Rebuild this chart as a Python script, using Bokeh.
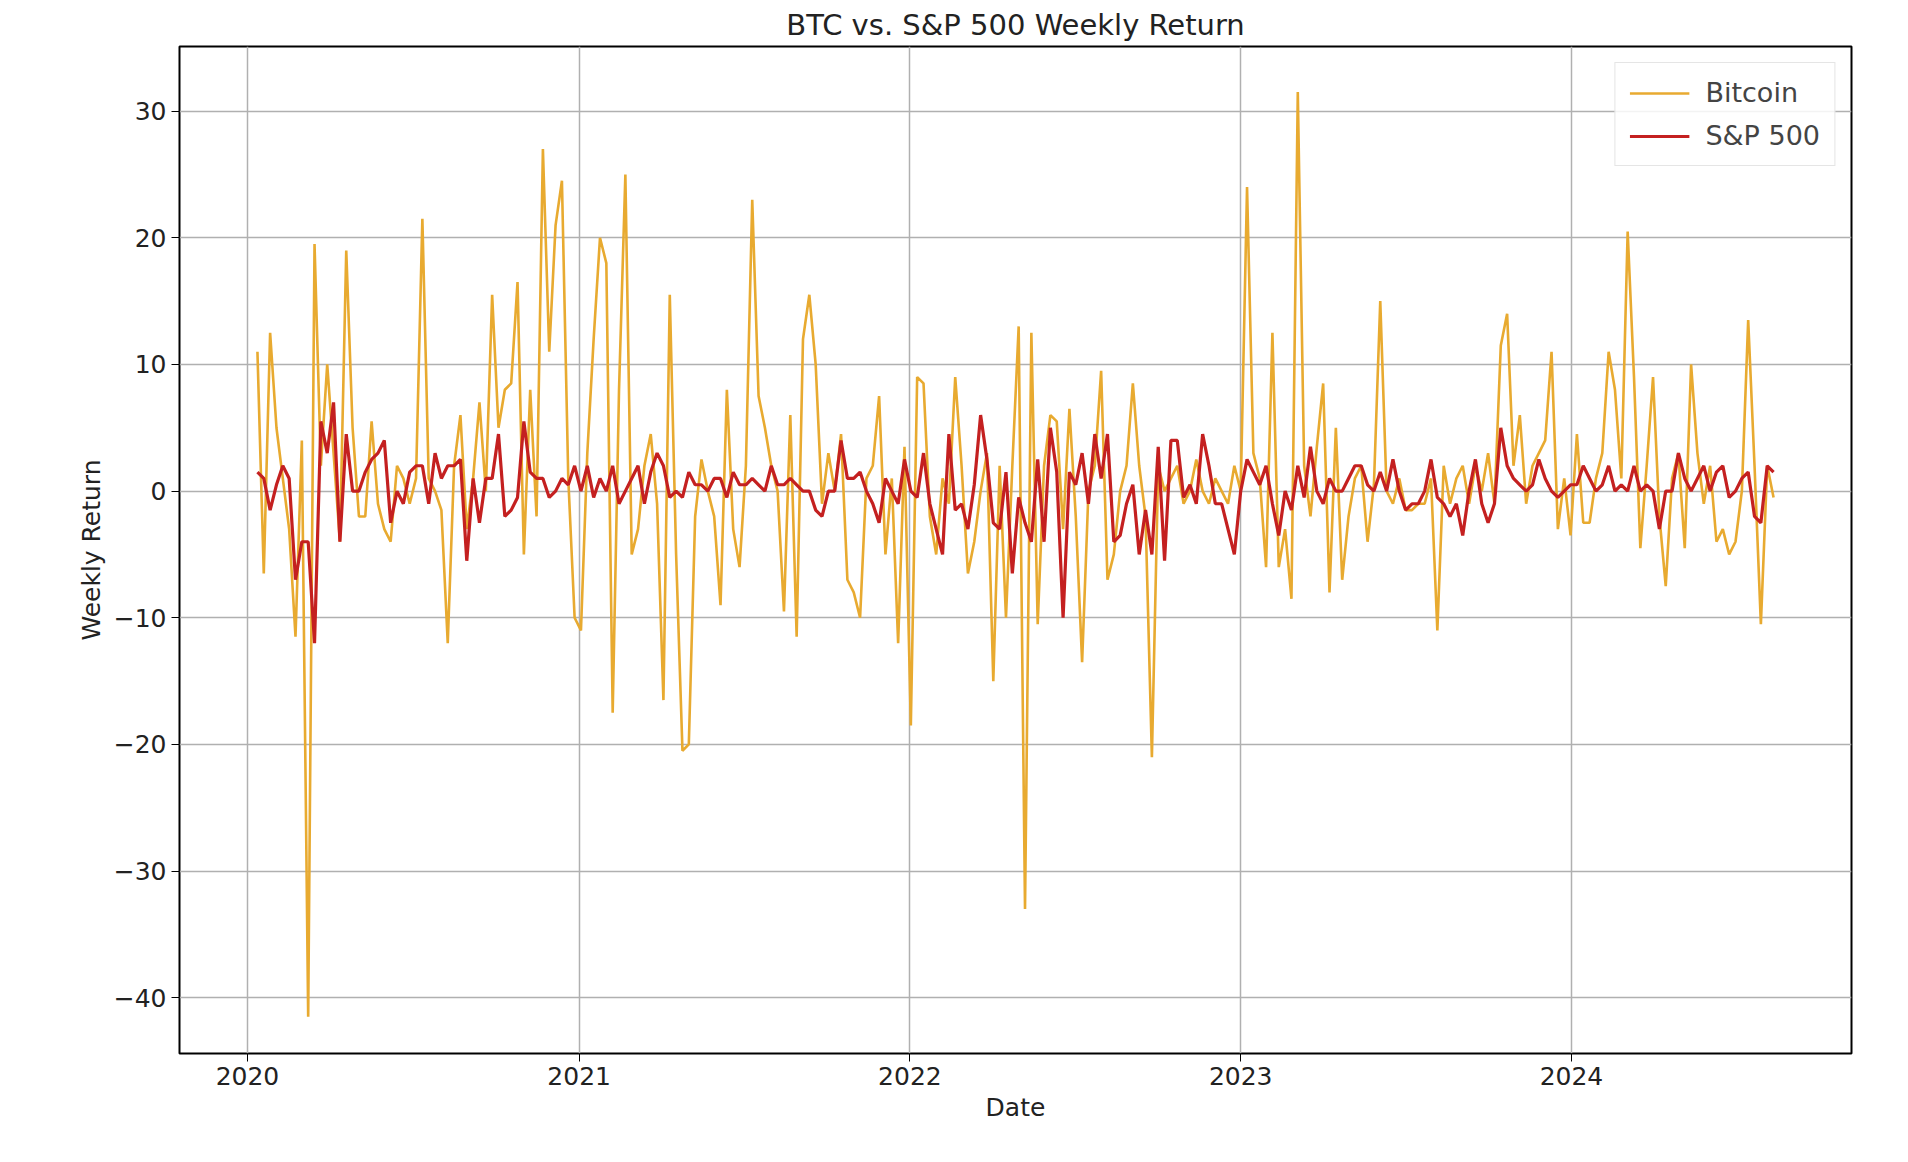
import pandas as pd
from bokeh.plotting import figure
from bokeh.models import FixedTicker, Legend, LegendItem, Range1d
from bokeh.embed import file_html
from bokeh.resources import INLINE

btc_2020 = [11, -6.5, 12.5, 5, 1, -3, -11.5, 4, -41.5, 19.5, 2, 10, 3, -4, 19, 5, -2, -2, 5.5, -1,
            -3, -4, 2, 1, -1, 1, 21.5, 1, 0, -1.5, -12, 2, 6, -3, 1, 7, 0, 15.5, 5, 8,
            8.5, 16.5, -5, 8, -2, 27, 11, 21, 24.5, 1, -10, -11]
btc_2021 = [3, 12, 20, 18, -17.5, 8, 25, -5, -3, 2, 4.5, -1, -16.5, 15.5, -5, -20.5, -20, -2, 2.5, 0,
            -2, -9, 8, -3, -6, 2, 23, 7.5, 5, 2, 0, -9.5, 6, -11.5, 12, 15.5, 10, -1, 3, 0,
            4.5, -7, -8, -10, 1, 2, 7.5, -5, 1, -12, 3.5, -18.5]
btc_2022 = [9, 8.5, -2, -5, 1, -1, 9, 2, -6.5, -4, 0, 3, -15, 2, -10, 2, 13, -33, 12.5, -10.5,
            2, 6, 5.5, -3, 6.5, -2, -13.5, 0, 2, 9.5, -7, -5, 0, 2, 8.5, 2, -2, -21, 2, 0,
            1, 2, -1, 0, 2.5, 0, -1, 1, 0, -1, 2, 0]
btc_2023 = [24, 3, 1, -6, 12.5, -6, -3, -8.5, 31.5, 2, -2, 3.5, 8.5, -8, 5, -7, -2, 1, 2, -4,
            0.5, 15, 0, -1, 1, -1.5, -1.5, -1, -1, 1, -11, 2, -1, 1, 2, -1, 2, 0, 3, -1,
            11.5, 14, 2, 6, -1, 2, 3, 4, 11, -3, 1, -3.5]
btc_2024 = [4.5, -2.5, -2.5, 1, 3, 11, 8, 1, 20.5, 9, -4.5, 2, 9, -2, -7.5, 1, 3, -4.5, 10, 3,
            -1, 2, -4, -3, -5, -4, 0, 13.5, 2, -10.5, 2, -0.5]

spx_2020 = [1.5, 1, -1.5, 0.5, 2, 1, -7, -4, -4, -12, 5.5, 3, 7, -4, 4.5, 0, 0, 1.5, 2.5, 3,
            4, -2.5, 0, -1, 1.5, 2, 2, -1, 3, 1, 2, 2, 2.5, -5.5, 1, -2.5, 1, 1, 4.5, -2,
            -1.5, -0.5, 5.5, 1.5, 1, 1, -0.5, 0, 1, 0.5, 2, 0]
spx_2021 = [2, -0.5, 1, 0, 2, -1, 0, 1, 2, -1, 1.5, 3, 2, -0.5, 0, -0.5, 1.5, 0.5, 0.5, 0,
            1, 1, -0.5, 1.5, 0.5, 0.5, 1, 0.5, 0, 2, 0.5, 0.5, 1, 0.5, 0, 0, -1.5, -2, 0, 0,
            4, 1, 1, 1.5, 0, -1, -2.5, 1, 0, -1, 2.5, 0]
spx_2022 = [-0.5, 3, -1, -3, -5, 4.5, -1.5, -1, -3, 0.5, 6, 2.5, -2.5, -3, 1.5, -6.5, -0.5, -2.5, -4, 2.5,
            -4, 5, 1.5, -10, 1.5, 0.5, 3, -1, 4.5, 1, 4.5, -4, -3.5, -1, 0.5, -5, -1.5, -5, 3.5, -5.5,
            4, 4, -0.5, 0.5, -1, 4.5, 2, -1, -1, -3, -5, 0]
spx_2023 = [2.5, 1.5, 0.5, 2, -1, -3.5, 0, -1.5, 2, -0.5, 3.5, 0, -1, 1, 0, 0, 1, 2, 2, 0.5,
            0, 1.5, 0, 2.5, 0, -1.5, -1, -1, 0, 2.5, -0.5, -1, -2, -1, -3.5, 0, 2.5, -1, -2.5, -1,
            5, 2, 1, 0.5, 0, 0.5, 2.5, 1, 0, -0.5, 0, 0.5]
spx_2024 = [0.5, 2, 1, 0, 0.5, 2, 0, 0.5, 0, 2, 0, 0.5, 0, -3, 0, 0, 3, 1, 0, 1,
            2, 0, 1.5, 2, -0.5, 0, 1, 1.5, -2, -2.5, 2, 1.5]

btc = btc_2020 + btc_2021 + btc_2022 + btc_2023 + btc_2024
spx = spx_2020 + spx_2021 + spx_2022 + spx_2023 + spx_2024
dates = pd.date_range("2020-01-12", periods=len(btc), freq="7D")
year_ticks = ["2020", "2021", "2022", "2023", "2024"]
y_ticks = [-40, -30, -20, -10, 0, 10, 20, 30]

FONT = "DejaVu Sans"
p = figure(width=1892, height=1140, x_axis_type="datetime", output_backend="svg",
           toolbar_location=None, title="BTC vs. S&P 500 Weekly Return",
           x_range=Range1d(pd.Timestamp("2019-10-18"), pd.Timestamp("2024-11-05")),
           y_range=Range1d(-44.4, 35.1),
           min_border_left=179, min_border_right=41, min_border_bottom=87, min_border_top=22)
p.title.align = "center"
p.title.text_font = FONT
p.title.text_font_size = "29px"
p.title.text_font_style = "normal"
p.title.text_color = "#222222"

r1 = p.line(dates, btc, color="#E8AA30", line_width=2.6)
r2 = p.line(dates, spx, color="#C42020", line_width=3.2)

tick_ms = [pd.Timestamp(y + "-01-01").value / 1e6 for y in year_ticks]
p.xaxis.ticker = FixedTicker(ticks=tick_ms)
p.xaxis.major_label_overrides = {t: y for t, y in zip(tick_ms, year_ticks)}
p.yaxis.ticker = FixedTicker(ticks=y_ticks)
p.yaxis.major_label_overrides = {v: (str(v).replace("-", "\u2212")) for v in y_ticks}
p.xaxis.axis_label = "Date"
p.yaxis.axis_label = "Weekly Return"
for ax in (p.xaxis, p.yaxis):
    ax.axis_label_text_font = FONT
    ax.axis_label_text_font_style = "normal"
    ax.axis_label_text_font_size = "25px"
    ax.axis_label_text_color = "#222222"
    ax.major_label_text_font = FONT
    ax.major_label_text_font_size = "25px"
    ax.major_label_text_color = "#222222"
    ax.minor_tick_line_color = None
    ax.major_tick_out = 8
    ax.major_tick_in = 0
    ax.axis_line_color = None
p.outline_line_color = "black"
p.outline_line_width = 2
p.grid.grid_line_color = "#b0b0b0"
p.grid.grid_line_width = 1.5

legend = Legend(items=[LegendItem(label="Bitcoin", renderers=[r1]),
                       LegendItem(label="S&P 500", renderers=[r2])],
                location="top_right", label_text_font=FONT, label_text_font_size="27px",
                glyph_width=60, label_standoff=16, border_line_color="#cccccc",
                border_line_width=1.5, background_fill_alpha=0.85, spacing=12,
                padding=14, margin=16)
p.add_layout(legend)

open("out.html", "w").write(file_html(p, INLINE))
